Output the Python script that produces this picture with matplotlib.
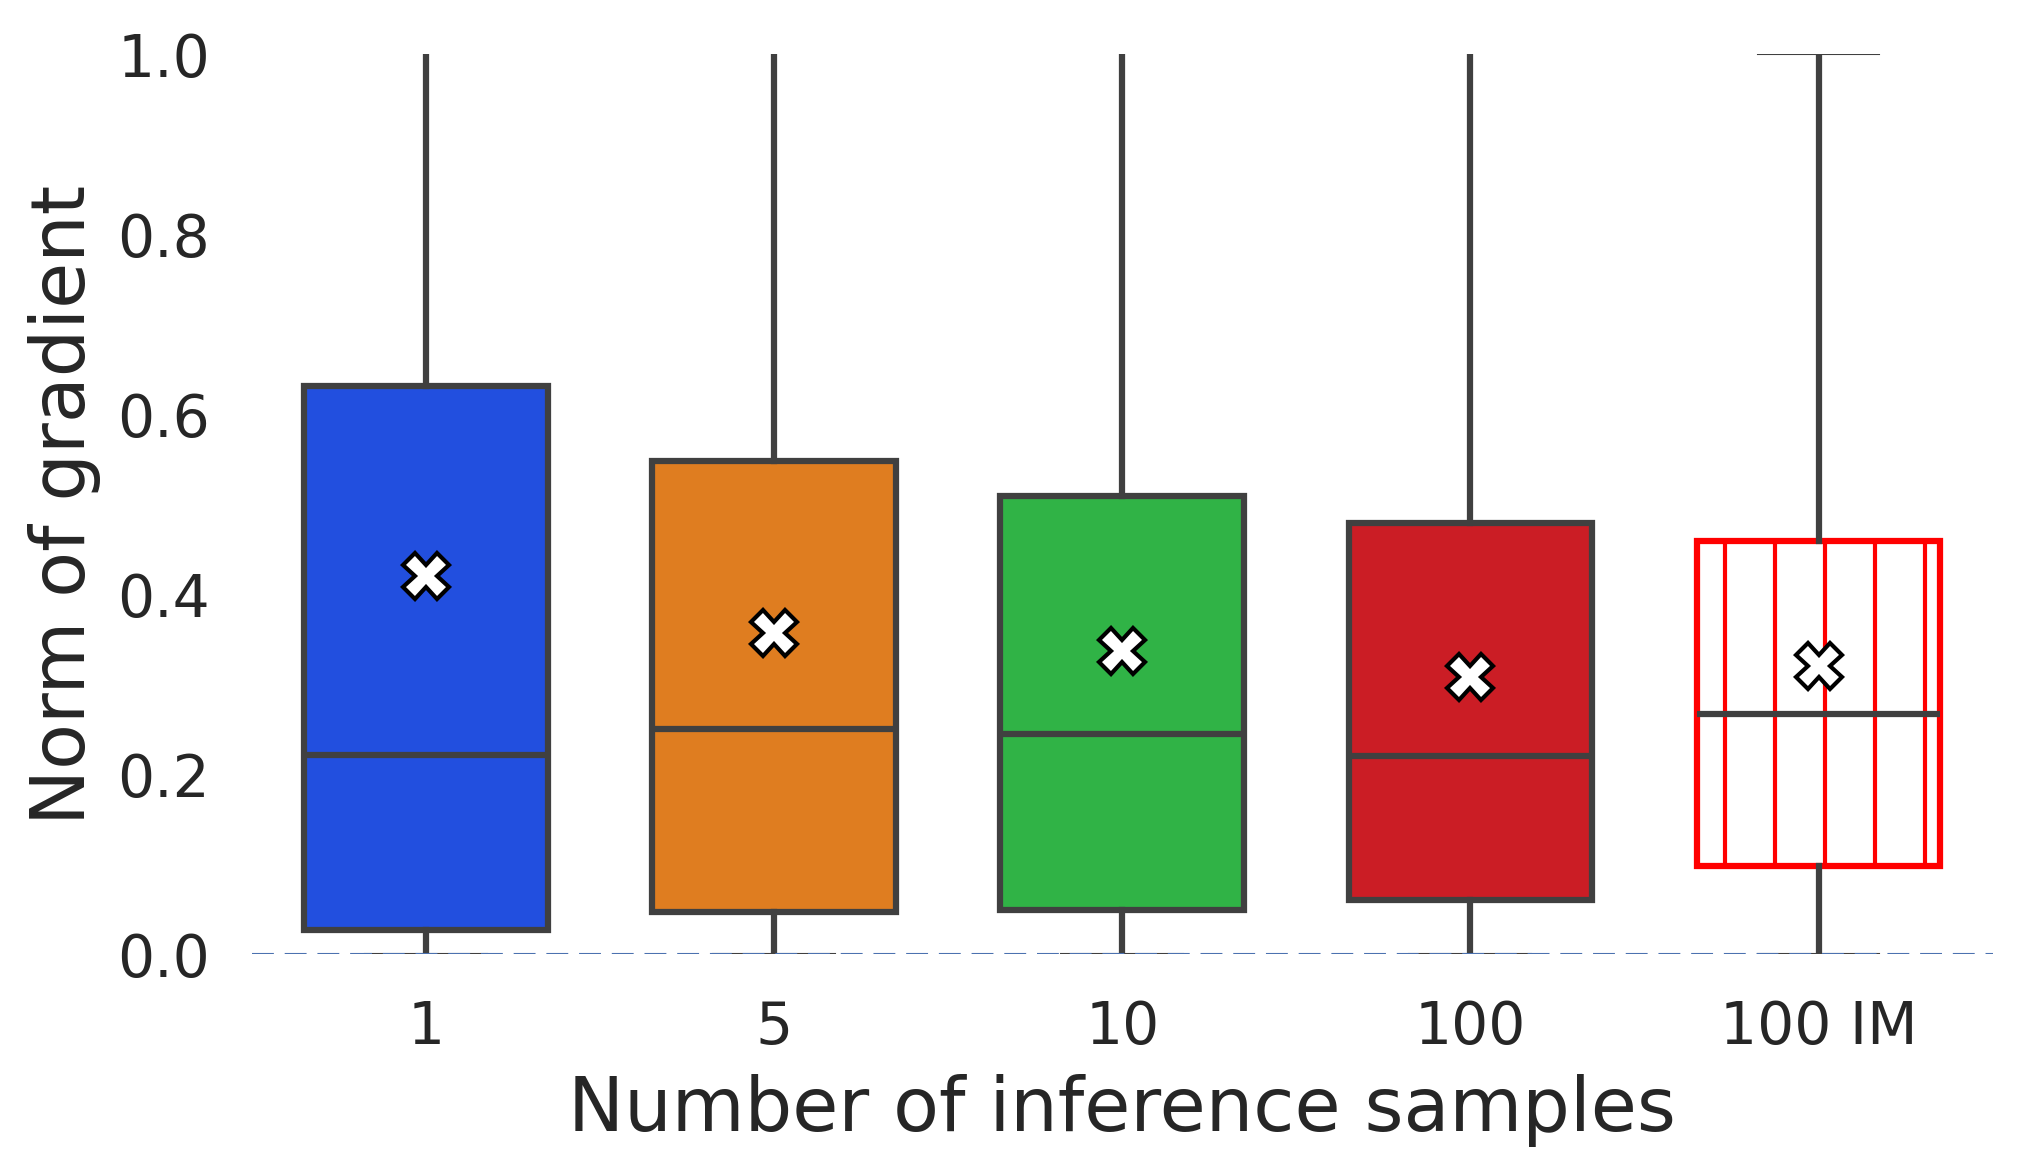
import colorsys
import matplotlib
matplotlib.use("Agg")
import matplotlib.pyplot as plt
from matplotlib.colors import to_rgb

# values
categories = ["1", "5", "10", "100", "100 IM"]
q1 = [0.027, 0.047, 0.049, 0.060, 0.098]
medians = [0.221, 0.250, 0.245, 0.220, 0.267]
q3 = [0.631, 0.548, 0.509, 0.479, 0.459]
means = [0.420, 0.357, 0.337, 0.308, 0.320]
whisker_low = [0.0, 0.0, 0.0, 0.0, 0.0]
whisker_high = [1.35, 1.25, 1.2, 1.15, 1.0]

# seaborn "bright" palette, desaturated like seaborn boxplot does
base_colors = ["#023eff", "#ff7c00", "#1ac938", "#e8000b"]


def desaturate(color, prop=0.75):
    h, l, s = colorsys.rgb_to_hls(*to_rgb(color))
    return colorsys.hls_to_rgb(h, l, s * prop)


fills = [desaturate(c) for c in base_colors]
edge = "#404040"
text_color = "#262626"

plt.rcParams["font.family"] = "DejaVu Sans"
plt.rcParams["hatch.linewidth"] = 1.0

fig = plt.figure(figsize=(6.75, 3.913), dpi=300)
ax = fig.add_axes([0.1244, 0.1865, 0.8596, 0.7667])

stats = []
for i, name in enumerate(categories):
    stats.append({
        "label": name,
        "q1": q1[i],
        "med": medians[i],
        "q3": q3[i],
        "mean": means[i],
        "whislo": whisker_low[i],
        "whishi": whisker_high[i],
        "fliers": [],
    })

lw = 1.5
bp = ax.bxp(
    stats,
    positions=range(len(categories)),
    widths=0.7,
    patch_artist=True,
    showmeans=True,
    boxprops=dict(linewidth=lw, edgecolor=edge),
    whiskerprops=dict(linewidth=lw, color=edge),
    capprops=dict(linewidth=0.5, color=edge),
    medianprops=dict(linewidth=lw, color=edge),
    meanprops=dict(marker="X", markerfacecolor="white", markeredgecolor="black",
                   markersize=11, markeredgewidth=1.0),
    capwidths=0.35,
)

for i, box in enumerate(bp["boxes"]):
    if i < len(fills):
        box.set_facecolor(fills[i])
    else:
        # last box: hollow, red outline with vertical hatching
        box.set_facecolor("white")
        box.set_edgecolor("#ff0000")
        box.set_hatch("|")

# dashed reference line at zero
ax.axhline(0, color="#4c72b0", linestyle="--", linewidth=0.5, dashes=(10.5, 5.2), zorder=5)

ax.set_xlim(-0.5, len(categories) - 0.5)
ax.set_ylim(0, 1.0)
ax.set_yticks([0.0, 0.2, 0.4, 0.6, 0.8, 1.0])
ax.set_yticklabels(["0.0", "0.2", "0.4", "0.6", "0.8", "1.0"])
ax.set_xticks(range(len(categories)))
ax.set_xticklabels(categories)

ax.tick_params(axis="both", length=0, labelsize=14, colors=text_color)
ax.tick_params(axis="x", pad=10.5)
ax.tick_params(axis="y", pad=10)

ax.set_xlabel("Number of inference samples", fontsize=18, color=text_color, labelpad=4.5)
ax.set_ylabel("Norm of gradient", fontsize=18, color=text_color, labelpad=4)

for spine in ax.spines.values():
    spine.set_visible(False)

fig.savefig("out.png", dpi=300)
